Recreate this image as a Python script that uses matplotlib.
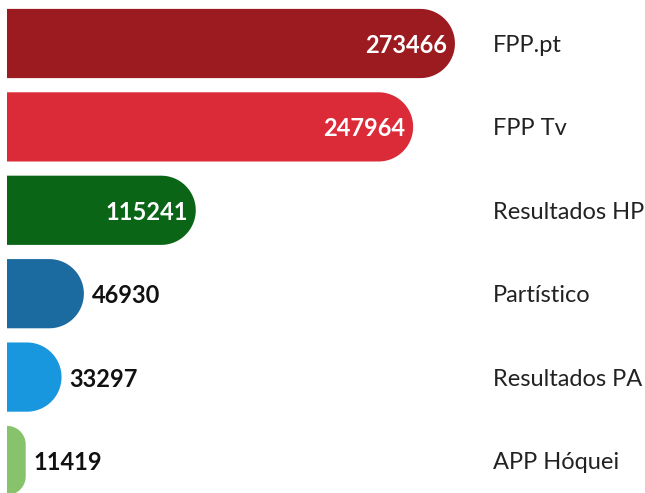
import matplotlib
matplotlib.use("Agg")
import matplotlib.pyplot as plt
import numpy as np
from matplotlib.patches import Polygon
from matplotlib.transforms import blended_transform_factory

names = ["FPP.pt", "FPP Tv", "Resultados HP", "Partístico", "Resultados PA", "APP Hóquei"]
values = [273466, 247964, 115241, 46930, 33297, 11419]
colors = ["#9c1b20", "#dc2b38", "#0b6516", "#1c6ba0", "#1896de", "#86c36b"]

plt.rcParams['font.family'] = ['Lato', 'DejaVu Sans']

W, H = 645, 493
fig = plt.figure(figsize=(W / 100, H / 100), dpi=100)
ax = fig.add_axes([7 / W, 0, 638 / W, 1])
ax.set_xlim(0, 389500)
ax.set_ylim(5.39, -0.5216)
ax.axis('off')

bar_h = 0.83
px_x = 638 / 389500          # pixels per data unit along x
px_y = H / (5.39 + 0.5216)   # pixels per category along y


def rounded_bar(i, w, color):
    """Bar with square left end and rounded right end."""
    hh = bar_h / 2
    w_px = w * px_x
    r_px = min(hh * px_y, w_px)
    rx, ry = r_px / px_x, r_px / px_y
    t = np.linspace(-np.pi / 2, 0, 25)
    pts = [(0, i - hh), (w - rx, i - hh)]
    cx, cy = w - rx, i - hh + ry
    pts += list(zip(cx + rx * np.cos(t), cy + ry * (1 + np.sin(t)) - ry))
    t2 = np.linspace(0, np.pi / 2, 25)
    cy2 = i + hh - ry
    pts += list(zip(cx + rx * np.cos(t2), cy2 + ry * np.sin(t2)))
    pts += [(0, i + hh)]
    ax.add_patch(Polygon(pts, closed=True, facecolor=color, edgecolor='none'))


lab_tr = blended_transform_factory(fig.transFigure, ax.transData)

for i, (n, v, c) in enumerate(zip(names, values, colors)):
    rounded_bar(i, v, c)
    if v > 100000:
        ax.annotate(str(v), (v, i), xytext=(-8, 0), textcoords='offset pixels',
                    ha='right', va='center_baseline', color='white',
                    fontsize=17, fontweight='bold')
    else:
        ax.annotate(str(v), (v, i), xytext=(8, 0), textcoords='offset pixels',
                    ha='left', va='center_baseline', color='#111111',
                    fontsize=17, fontweight='bold')
    ax.text(493 / W, i, n, transform=lab_tr, ha='left', va='center_baseline',
            fontsize=17, color='#222222')

fig.savefig("out.png", dpi=100)
